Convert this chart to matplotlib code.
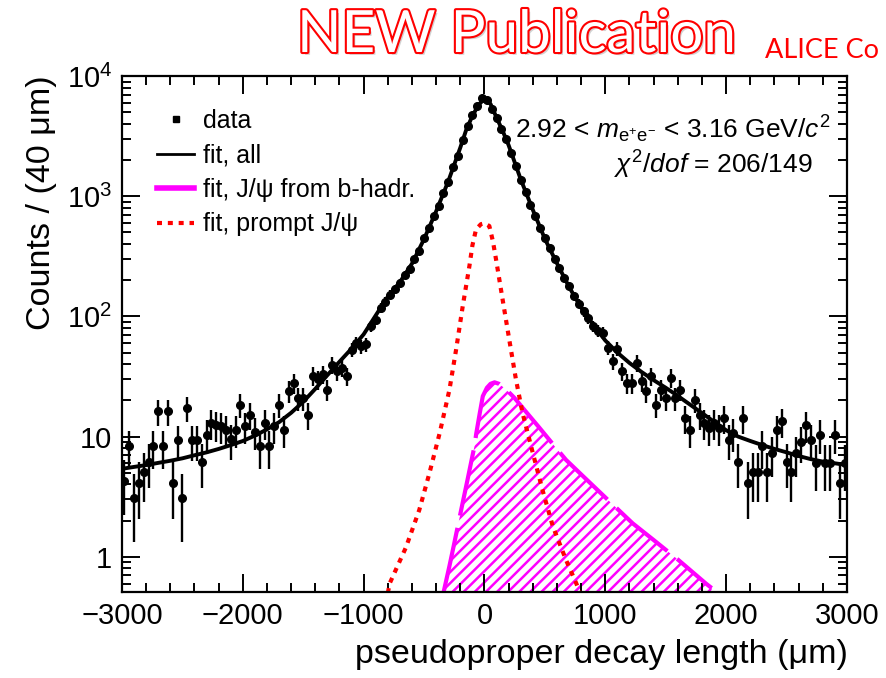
import numpy as np
import matplotlib
matplotlib.use('Agg')
import matplotlib.pyplot as plt
from matplotlib.lines import Line2D
from matplotlib.ticker import FixedLocator, MultipleLocator, LogLocator, NullFormatter
import matplotlib.patheffects as pe

plt.rcParams['font.family'] = ['Liberation Sans', 'DejaVu Sans']
plt.rcParams['mathtext.fontset'] = 'custom'
plt.rcParams['mathtext.rm'] = 'Liberation Sans'
plt.rcParams['mathtext.it'] = 'Liberation Sans:italic'
plt.rcParams['hatch.linewidth'] = 1.8
plt.rcParams['hatch.color'] = '#ff00ff'

# binned data: 150 bins of 40 um between -3000 and 3000
bin_width = 40
bin_centers = np.arange(-3000 + bin_width / 2, 3000, bin_width)
counts = [
    4.3, 8.3, 3.1, 4.1, 5.1, 6.2, 8.3, 16.2, 8.3, 16.2,
    4.1, 9.3, 3.1, 17.3, 9.3, 9.3, 6.2, 10.4, 13.0, 12.6,
    12.2, 11.4, 9.5, 11.4, 18.5, 12.2, 15.2, 11.0, 8.3, 13.0,
    8.3, 12.2, 18.5, 11.4, 23.9, 27.7, 21.0, 21.0, 15.2, 32.0,
    29.9, 32.9, 24.6, 39.8, 35.0, 37.4, 31.8, 53.0, 60.0, 56.6,
    58.5, 83.0, 94.0, 118, 133, 152, 168, 191, 222, 250,
    300, 352, 445, 540, 690, 830, 1060, 1320, 1740, 2180,
    2950, 3850, 4700, 5600, 6500, 6350, 5350, 4450, 3600, 2980,
    2300, 1800, 1370, 1090, 840, 690, 545, 445, 370, 298,
    255, 207, 178, 148, 128, 110, 97, 83, 76, 73,
    54.8, 42.4, 53.8, 35.0, 28.0, 28.0, 41.0, 28.9, 23.9, 31.8,
    18.5, 24.6, 21.0, 30.8, 21.0, 24.6, 14.3, 11.4, 20.3, 15.2,
    13.0, 11.8, 13.0, 11.8, 14.3, 9.4, 10.7, 6.2, 14.3, 4.1,
    5.1, 5.1, 8.3, 5.1, 7.3, 11.4, 13.4, 6.2, 5.1, 7.3,
    9.1, 12.4, 9.4, 6.0, 10.4, 6.0, 6.0, 10.4, 4.1, 6.0,
]

# total fit
fit_pos = [-3000, -2900, -2800, -2700, -2600, -2500, -2400, -2300, -2200, -2100,
           -2000, -1900, -1800, -1700, -1600, -1500, -1400, -1300, -1200, -1100,
           -1000, -900, -800, -700, -600, -500, -400, -300, -200, -150,
           -100, -50, 0, 50, 100, 150, 200, 300, 400, 500,
           600, 700, 800, 900, 1000, 1100, 1200, 1300, 1400, 1500,
           1600, 1700, 1800, 1900, 2000, 2100, 2200, 2300, 2400, 2500,
           2600, 2700, 2800, 2900, 3000]
fit_all = [5.4, 5.6, 5.8, 6.05, 6.3, 6.6, 7.0, 7.4, 7.9, 8.5,
           9.2, 10.2, 11.5, 13.2, 15.8, 19.5, 25.0, 32.5, 42, 54,
           71, 102, 146, 193, 275, 440, 750, 1330, 2540, 3600,
           4650, 5750, 6450, 5850, 4500, 3500, 2650, 1380, 770, 441,
           276, 176, 118, 85, 63, 50, 41, 34.5, 29.5, 25.5,
           21.8, 18.5, 15.7, 13.3, 11.3, 10.0, 9.2, 8.5, 7.9, 7.4,
           6.9, 6.5, 6.2, 6.0, 5.8]

# J/psi from b-hadrons
b_pos = [-340, -290, -250, -193, -140, -100, -83, -69, -40, -14,
         20, 50, 83, 120, 151, 200, 248, 350, 450, 592,
         675, 800, 1000, 1226, 1400, 1600, 1832, 1880]
b_fit = [0.5, 0.84, 1.3, 2.46, 4.4, 6.9, 8.3, 10.5, 15.5, 21.7,
         25.5, 27.5, 28.3, 27.5, 26, 23.5, 21, 15.8, 12, 8.05,
         6.4, 4.85, 3.12, 1.9, 1.38, 0.95, 0.6, 0.55]

# prompt J/psi
p_pos = [-800, -785, -650, -540, -455, -370, -290, -235, -180, -125,
         -100, -70, -30, 0, 40, 70, 95, 150, 205, 260,
         315, 400, 480, 565, 675, 760, 790]
p_fit = [0.5, 0.6, 1.2, 2.45, 5.0, 10.8, 24.6, 53, 122, 262,
         390, 530, 585, 596, 565, 420, 300, 138, 64, 30,
         15.7, 7.3, 3.6, 1.8, 0.94, 0.6, 0.5]

W, H = 887, 678
fig = plt.figure(figsize=(W / 100, H / 100), dpi=100)
ax = fig.add_axes([122 / W, (H - 592) / H, (847 - 122) / W, (592 - 76) / H])

magenta = '#ff00ff'
ax.fill_between(b_pos, b_fit, 0.3, facecolor='none', edgecolor=magenta,
                hatch='///', linewidth=0)
ax.plot(b_pos, b_fit, color=magenta, lw=3, linestyle=(0, (16, 3)))
ax.plot(p_pos, p_fit, color='red', lw=3, linestyle=(0, (1.2, 1.4)))
ax.plot(fit_pos, fit_all, color='black', lw=2.8, zorder=4)
ax.errorbar(bin_centers, counts, yerr=np.sqrt(counts), fmt='o', color='black',
            ms=5.5, elinewidth=1.7, capsize=0, zorder=5)

ax.set_yscale('log')
ax.set_xlim(-3000, 3000)
ax.set_ylim(0.51, 1e4)

ax.xaxis.set_major_locator(FixedLocator([-3000, -2000, -1000, 0, 1000, 2000, 3000]))
ax.set_xticklabels(['\u22123000', '\u22122000', '\u22121000', '0', '1000', '2000', '3000'])
ax.xaxis.set_minor_locator(MultipleLocator(200))
ax.yaxis.set_major_locator(FixedLocator([1, 10, 100, 1000, 10000]))
ax.set_yticklabels(['1', '10', r'$10^{2}$', r'$10^{3}$', r'$10^{4}$'])
ax.yaxis.set_minor_locator(LogLocator(base=10, subs=np.arange(2, 10)))
ax.yaxis.set_minor_formatter(NullFormatter())

ax.tick_params(which='both', direction='in', top=True, right=True, width=1.4, labelsize=21)
ax.tick_params(which='major', length=13, pad=7)
ax.tick_params(which='minor', length=6.5)
for sp in ax.spines.values():
    sp.set_linewidth(1.6)

fig.text(42 / W, 1 - 75 / H, 'Counts / (40 \u03bcm)', rotation=90, ha='center', va='top',
         fontsize=24.5)
fig.text(848 / W, 1 - 655 / H, 'pseudoproper decay length (\u03bcm)', ha='right', va='center',
         fontsize=24.5)

# legend
handles = [
    Line2D([], [], marker='s', color='black', ms=5, linestyle='none'),
    Line2D([], [], color='black', lw=2),
    Line2D([], [], color=magenta, lw=4),
    Line2D([], [], color='red', lw=3, linestyle=(0, (1.2, 1.4))),
]
labels = ['data', 'fit, all', 'fit, J/\u03c8 from b-hadr.', 'fit, prompt J/\u03c8']
ax.legend(handles, labels, loc='upper left', bbox_to_anchor=(35 / 725, (592 - 109) / 516),
          frameon=False, fontsize=18, handlelength=1.5, handletextpad=0.35,
          labelspacing=0.42, borderpad=0, borderaxespad=0)

fig.text(830 / W, 1 - 138 / H, r'2.92 < $m_{\mathrm{e^{+}e^{-}}}$ < 3.16 GeV/$c^{2}$',
         ha='right', va='baseline', fontsize=19)
fig.text(813 / W, 1 - 174 / H, r'$\chi^{2}/dof$ = 206/149', ha='right', va='baseline',
         fontsize=19)

# slide header (the slide crops the collaboration name at the right edge)
fig.text(297 / W, 1 - 52 / H, 'NEW Publication', family='Lato', fontsize=42, color='white',
         ha='left', va='baseline',
         path_effects=[pe.SimplePatchShadow(offset=(2, -2), shadow_rgbFace='gray', alpha=0.35),
                       pe.withStroke(linewidth=3, foreground='red')])
fig.text(765 / W, 1 - 58 / H, 'ALICE Co', family='Lato', fontsize=19.5, color='red',
         ha='left', va='baseline')

fig.savefig('out.png', dpi=100)
